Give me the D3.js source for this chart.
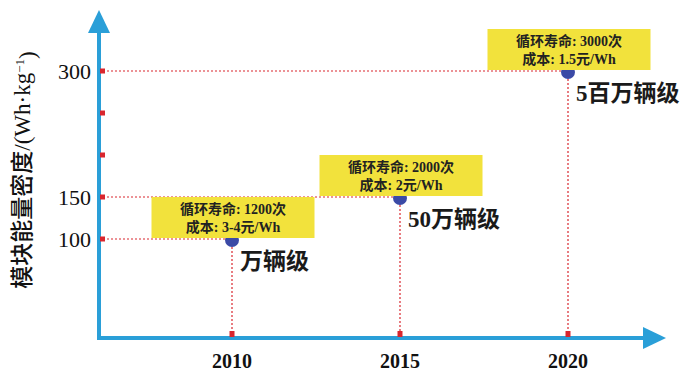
<!DOCTYPE html>
<html>
<head>
<meta charset="utf-8">
<script src="https://cdn.jsdelivr.net/npm/d3@7"></script>
<style>
  body { margin: 0; background: #fff; }
  svg { display: block; }
</style>
</head>
<body>
<script>
// data
const years = [2010, 2015, 2020];
const density = [100, 150, 300];
const cycles = ["1200", "2000", "3000"];
const costs = ["3-4", "2", "1.5"];
const scaleLabels = ["万辆级", "50万辆级", "5百万辆级"];
const yTicks = [100, 150, 200, 250, 300];
const yLabeled = [100, 150, 300];

const width = 700, height = 381;
const axisX = 99, axisY = 338;
const mixFont = "'Liberation Serif', 'Noto Sans CJK SC', serif";

const svg = d3.select("body").append("svg")
    .attr("width", width)
    .attr("height", height);

const x = d3.scaleLinear().domain([2010, 2020]).range([232, 568]);
const y = d3.scaleLinear().domain([100, 300]).range([239, 71]);

const blue = "#2a9fd8", red = "#d9262e";

// dashed guide lines
years.forEach(function (yr, i) {
    svg.append("line")
        .attr("x1", axisX).attr("x2", x(yr))
        .attr("y1", y(density[i])).attr("y2", y(density[i]))
        .attr("stroke", red).attr("stroke-width", 1.2)
        .attr("stroke-dasharray", "2,2");
    svg.append("line")
        .attr("x1", x(yr)).attr("x2", x(yr))
        .attr("y1", y(density[i])).attr("y2", axisY)
        .attr("stroke", red).attr("stroke-width", 1.2)
        .attr("stroke-dasharray", "2,2");
});

// axes lines
svg.append("line")
    .attr("x1", axisX).attr("x2", axisX)
    .attr("y1", axisY + 2).attr("y2", 24)
    .attr("stroke", blue).attr("stroke-width", 4);
svg.append("line")
    .attr("x1", axisX - 2).attr("x2", 650)
    .attr("y1", axisY).attr("y2", axisY)
    .attr("stroke", blue).attr("stroke-width", 4);
// arrow heads
svg.append("path")
    .attr("d", `M${axisX},10 L${axisX + 11},33 L${axisX - 11},33 Z`)
    .attr("fill", blue);
svg.append("path")
    .attr("d", `M666,${axisY} L643,${axisY - 11} L643,${axisY + 11} Z`)
    .attr("fill", blue);

// red tick marks
yTicks.forEach(function (t) {
    svg.append("rect")
        .attr("x", axisX + 1).attr("y", y(t) - 2.5)
        .attr("width", 5).attr("height", 5)
        .attr("fill", red);
});
years.forEach(function (yr) {
    svg.append("rect")
        .attr("x", x(yr) - 2.5).attr("y", axisY - 7)
        .attr("width", 5).attr("height", 6)
        .attr("fill", red);
});

// tick labels
svg.selectAll(".ylab").data(yLabeled).enter().append("text")
    .attr("class", "ylab")
    .attr("x", 91).attr("y", function (d) { return y(d); })
    .attr("dy", "0.35em")
    .attr("text-anchor", "end")
    .style("font-family", "'Liberation Serif', serif")
    .style("font-size", "22px")
    .attr("fill", "#111")
    .text(function (d) { return d; });

svg.selectAll(".xlab").data(years).enter().append("text")
    .attr("class", "xlab")
    .attr("x", function (d) { return x(d); }).attr("y", 368)
    .attr("text-anchor", "middle")
    .style("font-family", "'Liberation Serif', serif")
    .style("font-size", "20px")
    .style("font-weight", "bold")
    .attr("fill", "#111")
    .text(function (d) { return d; });

// y axis title
const title = svg.append("text")
    .attr("transform", "translate(30,170) rotate(-90)")
    .attr("text-anchor", "middle")
    .style("font-family", mixFont)
    .style("font-size", "23px")
    .attr("fill", "#111");
title.append("tspan").style("font-weight", "500").text("模块能量密度");
title.append("tspan").text("/(Wh·kg");
title.append("tspan").attr("dy", "-0.5em").style("font-size", "13px").text("−1");
title.append("tspan").attr("dy", "0.5em").text(")");

// points and boxes
years.forEach(function (yr, i) {
    const px = x(yr), py = y(density[i]);
    svg.append("circle")
        .attr("cx", px).attr("cy", py + 1)
        .attr("r", 7)
        .attr("fill", "#3b4aa6");
    const bw = 163, bh = 41;
    svg.append("rect")
        .attr("x", px - bw / 2 + 1).attr("y", py - bh - 1)
        .attr("width", bw).attr("height", bh)
        .attr("fill", "#f2e23c");
    const t = svg.append("text")
        .attr("text-anchor", "middle")
        .style("font-family", mixFont)
        .style("font-size", "14px")
        .style("font-weight", "bold")
        .attr("fill", "#222");
    t.append("tspan").attr("x", px + 1).attr("y", py - 25)
        .text("循环寿命: " + cycles[i] + "次");
    t.append("tspan").attr("x", px + 1).attr("y", py - 7)
        .text("成本: " + costs[i] + "元/Wh");
    svg.append("text")
        .attr("x", px + 8).attr("y", py + 30)
        .style("font-family", mixFont)
        .style("font-size", "23px")
        .style("font-weight", "bold")
        .attr("fill", "#1a1a1a")
        .text(scaleLabels[i]);
});
</script>
</body>
</html>
